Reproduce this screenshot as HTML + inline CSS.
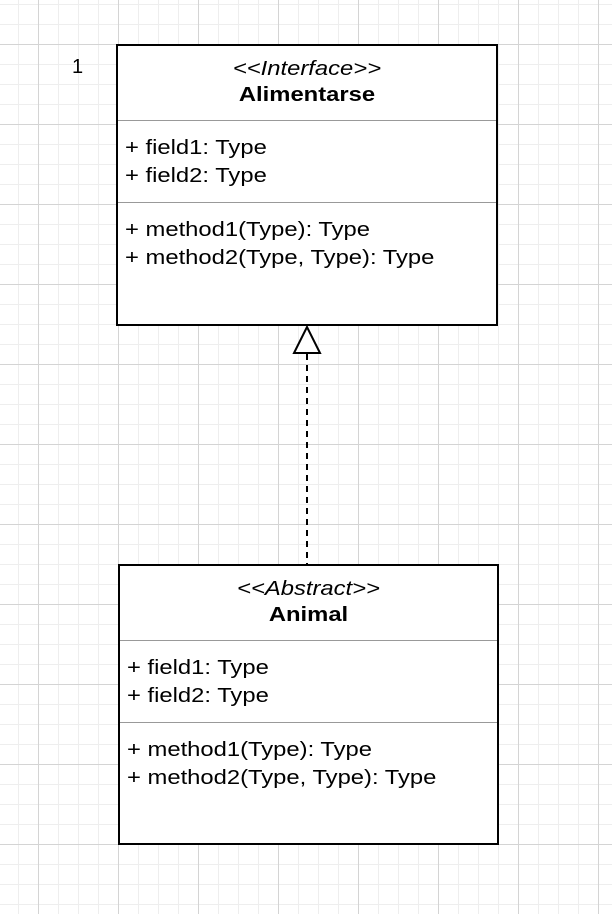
<!DOCTYPE html>
<html><head><style>
html,body{margin:0;padding:0}
body{width:612px;height:914px;position:relative;overflow:hidden;background:#fff;
background-image:
linear-gradient(#d4d4d4 1px,transparent 1px),
linear-gradient(90deg,#d4d4d4 1px,transparent 1px),
linear-gradient(#eeeeee 1px,transparent 1px),
linear-gradient(90deg,#eeeeee 1px,transparent 1px);
background-size:80px 80px,80px 80px,20px 20px,20px 20px;
background-position:0 44px,38px 0,0 4px,18px 0;
font-family:"Liberation Sans",Arial,sans-serif;color:#000}
.box{position:absolute;background:#fff;border:2px solid #000;box-sizing:border-box}
.hd{position:absolute;left:0;right:0;top:0;text-align:center;font-size:20px;line-height:26px;transform:scaleX(1.19);transform-origin:50% 0}
.sep{position:absolute;left:0;right:0;height:0;border-top:1.5px solid #999}
.t{position:absolute;left:7px;font-size:20px;line-height:28px;white-space:nowrap;transform:scaleX(1.19);transform-origin:0 0}
</style></head><body>
<div style="position:absolute;left:72px;top:56px;font-size:20px">1</div>
<div class="box" style="left:116px;top:44px;width:382px;height:282px">
 <div class="hd" style="top:10px"><i>&lt;&lt;Interface&gt;&gt;</i><br><b>Alimentarse</b></div>
 <div class="sep" style="top:74px"></div>
 <div class="t" style="top:88px">+ field1: Type<br>+ field2: Type</div>
 <div class="sep" style="top:156px"></div>
 <div class="t" style="top:170px">+ method1(Type): Type<br>+ method2(Type, Type): Type</div>
</div>
<svg style="position:absolute;left:0;top:0" width="612" height="914">
 <line x1="307" y1="354" x2="307" y2="565" stroke="#000" stroke-width="2" stroke-dasharray="6 5"/>
 <polygon points="307,327 294,353 320,353" fill="#fff" stroke="#000" stroke-width="2"/>
</svg>
<div class="box" style="left:118px;top:564px;width:381px;height:281px">
 <div class="hd" style="top:10px"><i>&lt;&lt;Abstract&gt;&gt;</i><br><b>Animal</b></div>
 <div class="sep" style="top:74px"></div>
 <div class="t" style="top:88px">+ field1: Type<br>+ field2: Type</div>
 <div class="sep" style="top:156px"></div>
 <div class="t" style="top:170px">+ method1(Type): Type<br>+ method2(Type, Type): Type</div>
</div>
</body></html>
